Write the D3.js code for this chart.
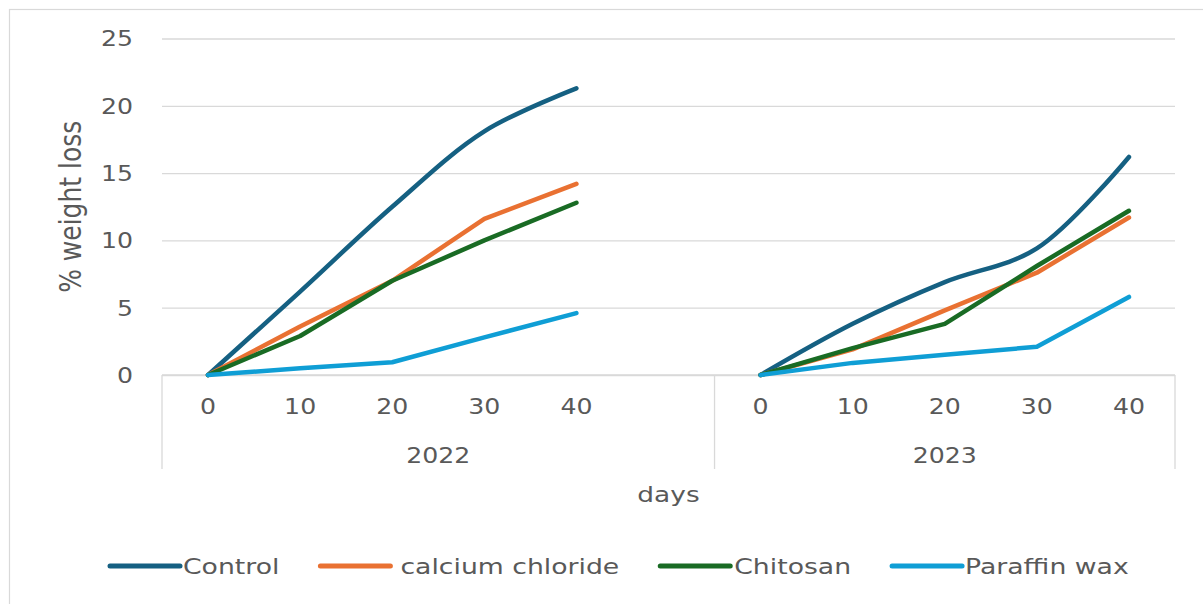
<!DOCTYPE html>
<html>
<head>
<meta charset="utf-8">
<script src="https://cdn.jsdelivr.net/npm/d3@7"></script>
<style>
  html, body { margin: 0; padding: 0; background: #fff; }
  svg { display: block; }
  text { font-family: "DejaVu Sans", "Liberation Sans", sans-serif; fill: #595959; }
</style>
</head>
<body>
<svg id="chart" width="1203" height="604"></svg>
<script>
// ---------- data ----------
const years = ["2022", "2023"];
const dayLabels = ["0", "10", "20", "30", "40"];
// category keys: each year has its days; 2022 carries one empty trailing slot
const categories = [
  "2022|0", "2022|10", "2022|20", "2022|30", "2022|40", "2022|",
  "2023|0", "2023|10", "2023|20", "2023|30", "2023|40"
];
const yTicks = [0, 5, 10, 15, 20, 25];
const seriesNames = ["Control", "calcium chloride", "Chitosan", "Paraffin wax"];
const control          = [0, 6.2, 12.5, 18.1, 21.3, null, 0, 3.8, 6.9, 9.4, 16.2];
const calciumChloride  = [0, 3.6, 7.0, 11.6, 14.2, null, 0, 1.9, 4.8, 7.6, 11.7];
const chitosan         = [0, 2.9, 7.0, 10.0, 12.8, null, 0, 2.0, 3.8, 8.1, 12.2];
const paraffinWax      = [0, 0.5, 0.95, 2.8, 4.6, null, 0, 0.9, 1.5, 2.1, 5.8];
const seriesValues = [control, calciumChloride, chitosan, paraffinWax];
const colors = ["#156082", "#E97132", "#196B24", "#0F9ED5"];
const smooth = [true, false, false, false];

// ---------- layout ----------
const svg = d3.select("#chart");
const plotLeft = 162, plotRight = 1175, plotTop = 38.5, plotBottom = 375;
const SX = 1.2; // horizontal text stretch
const textColor = "#555555";
const gridColor = "#d9d9d9";

// outer chart frame
svg.append("rect").attr("x", 9.5).attr("y", 9.5).attr("width", 1400).attr("height", 800)
  .attr("fill", "none").attr("stroke", "#d9d9d9").attr("stroke-width", 1.2);

const x = d3.scaleBand().domain(categories).range([plotLeft, plotRight]).padding(0);
const y = d3.scaleLinear().domain([0, 25]).range([plotBottom, plotTop]);

// y axis with gridlines
const yAxis = svg.append("g").attr("transform", `translate(${plotLeft},0)`)
  .call(d3.axisLeft(y).tickValues(yTicks).tickSize(-(plotRight - plotLeft)).tickPadding(0).tickFormat(d3.format("d")));
yAxis.select(".domain").remove();
yAxis.selectAll(".tick line").attr("stroke", gridColor).attr("stroke-width", 1.3);
yAxis.selectAll(".tick text")
  .attr("x", -29 / SX).attr("dy", "0.35em")
  .attr("transform", `scale(${SX},1)`)
  .style("font-size", "21px").style("font-family", "DejaVu Sans").attr("fill", textColor);

// x axis: day labels
const xAxis = svg.append("g").attr("transform", `translate(0,${plotBottom})`)
  .call(d3.axisBottom(x).tickSize(0).tickPadding(0).tickFormat(d => d.split("|")[1]));
xAxis.select(".domain").remove();
xAxis.selectAll(".tick text")
  .attr("y", 0).attr("dy", 0)
  .attr("transform", `translate(0,39) scale(${SX},1)`)
  .style("font-size", "21px").style("font-family", "DejaVu Sans").attr("fill", textColor);

// group separators and year labels (centred on the whole group span)
const groupBounds = years.map(yr => {
  const cats = categories.filter(c => c.startsWith(yr + "|"));
  const x0 = x(cats[0]);
  const x1 = x(cats[cats.length - 1]) + x.bandwidth();
  return { yr, x0, x1 };
});
const sepXs = [groupBounds[0].x0, groupBounds[0].x1, groupBounds[1].x1];
svg.selectAll("line.sep").data(sepXs).enter().append("line").attr("class", "sep")
  .attr("x1", d => d).attr("x2", d => d).attr("y1", plotBottom).attr("y2", 469)
  .attr("stroke", gridColor).attr("stroke-width", 1.3);
svg.selectAll("text.year").data(groupBounds).enter().append("text").attr("class", "year")
  .attr("text-anchor", "middle")
  .attr("transform", g => `translate(${(g.x0 + g.x1) / 2},463) scale(${SX},1)`)
  .style("font-size", "21px").attr("fill", textColor).text(g => g.yr);

svg.append("line").attr("x1", plotLeft).attr("x2", plotRight).attr("y1", plotBottom).attr("y2", plotBottom)
  .attr("stroke", gridColor).attr("stroke-width", 1.3);

// axis titles
svg.append("text").attr("text-anchor", "middle")
  .attr("transform", `translate(${(plotLeft + plotRight) / 2},502) scale(${SX},1)`)
  .style("font-size", "22px").attr("fill", textColor).text("days");
svg.append("text").attr("text-anchor", "middle")
  .attr("transform", `translate(81,${(plotTop + plotBottom) / 2}) scale(${SX},1) rotate(-90)`)
  .style("font-size", "25px").attr("fill", textColor).text("% weight loss");

// series lines
seriesValues.forEach((vals, i) => {
  const pts = categories.map((c, j) => ({ c, v: vals[j] }));
  const line = d3.line()
    .defined(d => d.v !== null)
    .x(d => x(d.c) + x.bandwidth() / 2)
    .y(d => y(d.v))
    .curve(smooth[i] ? d3.curveCatmullRom.alpha(0.5) : d3.curveLinear);
  svg.append("path").datum(pts).attr("d", line)
    .attr("fill", "none").attr("stroke", colors[i]).attr("stroke-width", 4.5)
    .attr("stroke-linecap", "round").attr("stroke-linejoin", "round");
});

// legend
const legend = svg.append("g");
let lx = 110;
const ly = 566;
const LSX = 1.27;
const gaps = [3, 10, 4, 3];
seriesNames.forEach((name, i) => {
  legend.append("line").attr("x1", lx).attr("x2", lx + 70).attr("y1", ly).attr("y2", ly)
    .attr("stroke", colors[i]).attr("stroke-width", 5).attr("stroke-linecap", "round");
  const tx = lx + 70 + gaps[i];
  const t = legend.append("text")
    .attr("transform", `translate(${tx},${ly + 7.5}) scale(${LSX},1)`)
    .style("font-size", "21px").attr("fill", textColor).text(name);
  const w = t.node().getComputedTextLength() * LSX;
  lx = tx + w + 41;
});
</script>
</body>
</html>
